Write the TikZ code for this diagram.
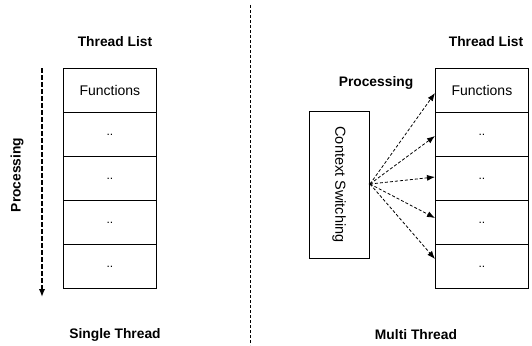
\documentclass[tikz,border=0pt]{standalone}
\usepackage{fontspec}
\setmainfont{Liberation Sans}
\usetikzlibrary{arrows.meta}
\begin{document}
\begin{tikzpicture}[x=1pt,y=-1pt,
  cell/.style={draw,line width=0.8pt,minimum width=93pt,minimum height=44pt,inner sep=0pt,anchor=north west,font=\fontsize{14}{14}\selectfont},
  dotcell/.style={cell,font=\fontsize{12}{12}\selectfont},
  lbl/.style={font=\fontsize{13.8}{14}\selectfont\bfseries,inner sep=0pt},
  darr/.style={dashed,dash pattern=on 3pt off 2pt,line width=0.8pt,-{Latex[length=8pt,width=6pt]}}]
\useasboundingbox (0,0) rectangle (532,345);
% left
\node[lbl] (tl1) at (115,42) {Thread List};
\node[cell] (l1) at (63,68) {Functions};
\node[dotcell] (l2) at (63,112) {..};
\node[dotcell] (l3) at (63,156) {..};
\node[dotcell] (l4) at (63,200) {..};
\node[dotcell] (l5) at (63,244) {..};
\coordinate (ls) at (42,68);
\coordinate (le) at (42,297);
\draw[line width=1.8pt,dash pattern=on 4.5pt off 2.5pt,-{Latex[length=8pt,width=6.5pt]}] (ls) -- (le);
\node[lbl,rotate=90] (pl) at (17,175) {Processing};
\node[lbl] (st) at (115,335) {Single Thread};
% divider
\coordinate (d1) at (250,5);
\coordinate (d2) at (250,345);
\draw[line width=0.6pt,dash pattern=on 3pt off 2pt] (d1) -- (d2);
% right
\node[lbl] (tl2) at (486,42) {Thread List};
\node[cell] (r1) at (435,68) {Functions};
\node[dotcell] (r2) at (435,112) {..};
\node[dotcell] (r3) at (435,156) {..};
\node[dotcell] (r4) at (435,200) {..};
\node[dotcell] (r5) at (435,244) {..};
\node[lbl] (pr) at (376,83) {Processing};
\node[draw,line width=0.8pt,minimum width=60pt,minimum height=147pt,inner sep=0pt] (cs) at (339,184.5) {};
\node[rotate=-90,font=\fontsize{14.5}{14.5}\selectfont] (cst) at (cs.center) {Context Switching};
\coordinate (src) at (370,184);
\coordinate (t1) at (435,93);
\coordinate (t2) at (435,136);
\coordinate (t3) at (435,177);
\coordinate (t4) at (435,218);
\coordinate (t5) at (435,259);
\foreach \t in {t1,t2,t3,t4,t5} \draw[darr] (src) -- (\t);
\fill (src) circle (1.5pt);
\node[lbl] (mt) at (416,335) {Multi Thread};
\end{tikzpicture}
\end{document}
